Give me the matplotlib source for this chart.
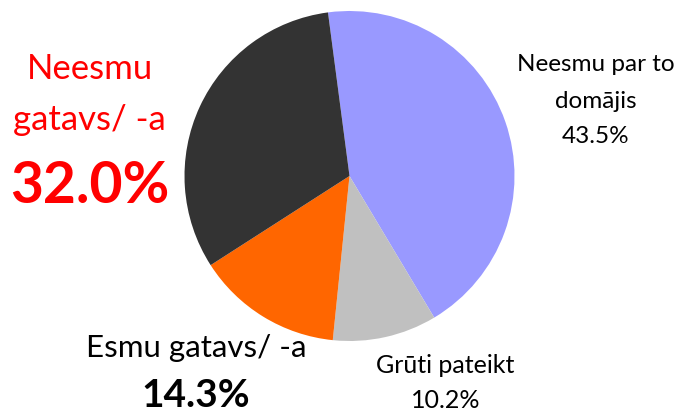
import matplotlib
matplotlib.use('Agg')
import matplotlib.pyplot as plt

plt.rcParams['font.family'] = ['Lato', 'DejaVu Sans']

labels = ['Neesmu par to', 'domājis', 'Grūti pateikt', 'Esmu gatavs/ -a', 'Neesmu', 'gatavs/ -a']
values = [43.5, 10.2, 14.3, 32.0]
colors = ['#9999FF', '#C0C0C0', '#FF6600', '#333333']

fig = plt.figure(figsize=(6.81, 4.14), dpi=100)
ax = fig.add_axes([0, 0, 1, 1])

# pie drawn in pixel-like data coordinates
ax.pie(values, colors=colors, startangle=97.5, counterclock=False,
       center=(349.5, 237), radius=165, frame=True,
       wedgeprops=dict(linewidth=0))
ax.set_xlim(0, 681)
ax.set_ylim(0, 414)
ax.set_aspect('equal')
ax.axis('off')

# right label
ax.text(596, 343, labels[0], ha='center', va='baseline', fontsize=17.5, color='black')
ax.text(596, 306, labels[1], ha='center', va='baseline', fontsize=17.5, color='black')
ax.text(596, 271, f'{values[0]:.1f}%', ha='center', va='baseline', fontsize=17.5, color='black')

# bottom right label
ax.text(445, 41, labels[2], ha='center', va='baseline', fontsize=18, color='black')
ax.text(446, 6, f'{values[1]:.1f}%', ha='center', va='baseline', fontsize=18, color='black')

# bottom left label
ax.text(196, 57, labels[3], ha='center', va='baseline', fontsize=22.5, color='black')
ax.text(196, 7, f'{values[2]:.1f}%', ha='center', va='baseline', fontsize=28,
        fontweight='bold', color='black')

# left label (highlighted)
ax.text(90, 335, labels[4], ha='center', va='baseline', fontsize=25, color='#FF0000')
ax.text(89, 284, labels[5], ha='center', va='baseline', fontsize=25, color='#FF0000')
ax.text(89.5, 211, f'{values[3]:.1f}%', ha='center', va='baseline', fontsize=41,
        fontweight='bold', color='#FF0000')

fig.savefig('out.png', dpi=100)
